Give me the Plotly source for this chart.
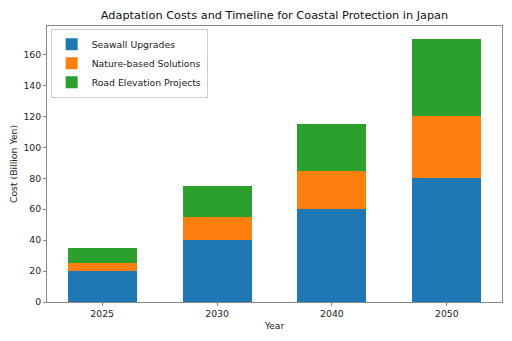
import plotly.graph_objects as go

years = ["2025", "2030", "2040", "2050"]
seawall = [20, 40, 60, 80]
nature = [5, 15, 25, 40]
road = [10, 20, 30, 50]
series_names = ["Seawall Upgrades", "Nature-based Solutions", "Road Elevation Projects"]
colors = ["#1f77b4", "#ff7f0e", "#2ca02c"]

FONT = "DejaVu Sans"
FS = 9.3
fig = go.Figure()
for name, vals, c in zip(series_names, [seawall, nature, road], colors):
    fig.add_trace(go.Bar(x=years, y=vals, name=name, width=0.6,
                         marker=dict(color=c, line=dict(width=0))))

fig.update_layout(
    barmode="stack",
    width=512, height=341,
    margin=dict(l=47, r=10, t=26, b=39),
    paper_bgcolor="white", plot_bgcolor="white",
    font=dict(family=FONT, size=FS, color="#222"),
    title=dict(text="Adaptation Costs and Timeline for Coastal Protection in Japan",
               x=0.5, xref="paper", y=1 - 15/341, yref="container",
               xanchor="center", yanchor="middle",
               font=dict(family=FONT, size=11.3, color="#111")),
    legend=dict(x=0.008, y=0.99, xanchor="left", yanchor="top",
                bgcolor="rgba(255,255,255,0.9)", bordercolor="#ccc", borderwidth=1,
                font=dict(family=FONT, size=FS, color="#222"),
                tracegroupgap=0, itemwidth=30, traceorder="normal"),
    bargap=0,
)
fig.update_xaxes(type="category", range=[-0.48, 3.48],
                 showline=True, linecolor="#888", linewidth=1, mirror=True,
                 ticks="outside", ticklen=3, tickcolor="#888",
                 showgrid=False, zeroline=False,
                 title=dict(text="Year", font=dict(family=FONT, size=FS), standoff=4))
fig.update_yaxes(range=[0, 178.5], tickvals=list(range(0, 161, 20)),
                 showline=True, linecolor="#888", linewidth=1, mirror=True,
                 ticks="outside", ticklen=3, tickcolor="#888",
                 showgrid=False, zeroline=False,
                 title=dict(text="Cost (Billion Yen)", font=dict(family=FONT, size=FS), standoff=4))

fig.write_html("out.html")
